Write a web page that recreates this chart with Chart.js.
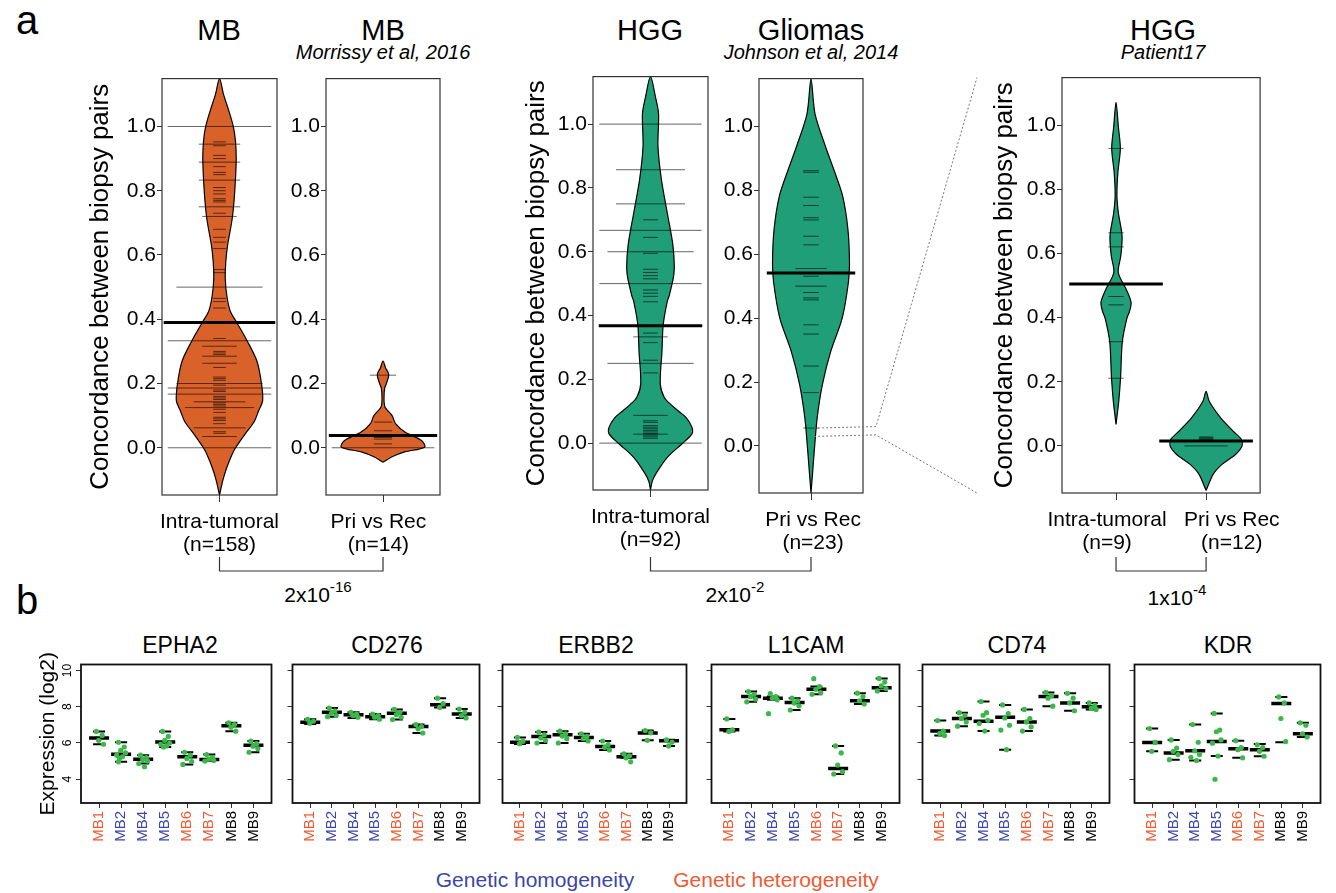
<!DOCTYPE html>
<html>
<head>
<meta charset="utf-8">
<script src="https://cdn.jsdelivr.net/npm/chart.js@4.4.1/dist/chart.umd.min.js"></script>
<style>
  body { margin: 0; background: #fff; width: 1336px; height: 893px; position: relative; overflow: hidden;
         font-family: "Liberation Sans", Arial, sans-serif; }
  canvas { position: absolute; }
  .t { position: absolute; white-space: nowrap; transform: translate(-50%, -50%); line-height: 1; color: #000; }
  .t sup { font-size: 0.72em; vertical-align: 0.65em; line-height: 0; }
</style>
</head>
<body>
<div class="t" style="left:27px;top:20px;font-size:40px">a</div>
<div class="t" style="left:27px;top:600px;font-size:40px">b</div>

<div class="t" style="left:219px;top:30px;font-size:29px">MB</div>
<div class="t" style="left:383px;top:30px;font-size:29px">MB</div>
<div class="t" style="left:383px;top:52px;font-size:20px;font-style:italic">Morrissy et al, 2016</div>
<div class="t" style="left:650px;top:30px;font-size:29px">HGG</div>
<div class="t" style="left:811px;top:30px;font-size:29px">Gliomas</div>
<div class="t" style="left:811px;top:52px;font-size:20px;font-style:italic">Johnson et al, 2014</div>
<div class="t" style="left:1163px;top:30px;font-size:29px">HGG</div>
<div class="t" style="left:1163px;top:52px;font-size:20px;font-style:italic">Patient17</div>

<div class="t" style="left:318px;top:594px;font-size:21px">2x10<sup>-16</sup></div>
<div class="t" style="left:735px;top:594px;font-size:21px">2x10<sup>-2</sup></div>
<div class="t" style="left:1177px;top:597px;font-size:21px">1x10<sup>-4</sup></div>

<div class="t" style="left:180px;top:645px;font-size:23px">EPHA2</div>
<div class="t" style="left:387px;top:645px;font-size:23px">CD276</div>
<div class="t" style="left:596px;top:645px;font-size:23px">ERBB2</div>
<div class="t" style="left:806px;top:645px;font-size:23px">L1CAM</div>
<div class="t" style="left:1017px;top:645px;font-size:23px">CD74</div>
<div class="t" style="left:1228px;top:645px;font-size:23px">KDR</div>

<div class="t" style="left:535px;top:879px;font-size:21px;color:#3A46A8">Genetic homogeneity</div>
<div class="t" style="left:776px;top:879px;font-size:21px;color:#F05A32">Genetic heterogeneity</div>

<script>
Chart.defaults.font.family = '"Liberation Sans", Arial, sans-serif';
Chart.defaults.color = '#000';

const ORANGE = '#D9622B';
const GREEN = '#1F9E77';

// ---------- panel a ----------
const concTicks = [0, 0.2, 0.4, 0.6, 0.8, 1.0];

// violin outlines: [value, half width in x units]
const mbIntraShape = [[-0.147,0],[-0.1,0.06],[-0.06,0.13],[-0.02,0.22],[0,0.28],[0.044,0.45],[0.08,0.6],[0.115,0.68],[0.146,0.75],[0.2,0.73],[0.27,0.65],[0.333,0.48],[0.39,0.3],[0.424,0.19],[0.47,0.13],[0.527,0.1],[0.58,0.11],[0.63,0.14],[0.712,0.22],[0.785,0.26],[0.89,0.29],[0.95,0.28],[1.0,0.24],[1.05,0.16],[1.1,0.07],[1.149,0]];
const mbRecShape = [[-0.045,0],[-0.028,0.16],[-0.013,0.38],[0.002,0.73],[0.022,0.68],[0.048,0.39],[0.075,0.22],[0.1,0.16],[0.125,0.04],[0.14,0.02],[0.17,0.02],[0.186,0.03],[0.2,0.06],[0.228,0.1],[0.249,0.044],[0.27,0]];
const hggIntraShape = [[-0.147,0],[-0.12,0.03],[-0.094,0.1],[-0.043,0.3],[-0.002,0.55],[0.029,0.72],[0.05,0.72],[0.08,0.62],[0.1,0.49],[0.12,0.36],[0.143,0.24],[0.185,0.17],[0.288,0.2],[0.37,0.22],[0.443,0.29],[0.465,0.33],[0.536,0.41],[0.62,0.39],[0.723,0.29],[0.826,0.19],[0.93,0.13],[1.033,0.14],[1.085,0.087],[1.149,0]];
const gliomaShape = [[-0.147,0],[-0.085,0.03],[-0.013,0.064],[0.09,0.12],[0.193,0.22],[0.296,0.38],[0.4,0.6],[0.513,0.72],[0.575,0.74],[0.678,0.71],[0.781,0.61],[0.864,0.44],[0.936,0.28],[1.039,0.077],[1.148,0]];
const p17IntraShape = [[0.067,0],[0.139,0.03],[0.211,0.05],[0.325,0.07],[0.397,0.12],[0.42,0.15],[0.448,0.167],[0.49,0.11],[0.541,0.025],[0.593,0.053],[0.655,0.067],[0.727,0.026],[0.78,0.01],[0.851,0.02],[0.928,0.048],[0.995,0.026],[1.072,0]];
const p17RecShape = [[-0.139,0],[-0.088,0.08],[-0.057,0.18],[-0.026,0.33],[0,0.4],[0.021,0.39],[0.046,0.3],[0.088,0.16],[0.139,0.035],[0.17,0]];

// bean lines: [value, half length]
const mbIntraBeans = [[1.0,0.9],[0.952,0.11],[0.945,0.36],[0.94,0.11],[0.91,0.11],[0.9,0.11],[0.889,0.36],[0.875,0.11],[0.857,0.11],[0.85,0.11],[0.833,0.36],[0.81,0.11],[0.8,0.11],[0.79,0.11],[0.775,0.11],[0.77,0.11],[0.765,0.11],[0.75,0.36],[0.73,0.11],[0.72,0.3],[0.68,0.11],[0.655,0.11],[0.64,0.11],[0.62,0.11],[0.555,0.11],[0.545,0.11],[0.5,0.75],[0.465,0.11],[0.455,0.11],[0.435,0.11],[0.34,0.11],[0.333,0.9],[0.316,0.3],[0.3,0.11],[0.295,0.11],[0.29,0.11],[0.285,0.3],[0.263,0.3],[0.25,0.11],[0.22,0.11],[0.215,0.11],[0.21,0.11],[0.2,0.75],[0.195,0.11],[0.186,0.9],[0.18,0.11],[0.175,0.11],[0.167,0.9],[0.16,0.11],[0.155,0.11],[0.15,0.11],[0.143,0.45],[0.14,0.11],[0.135,0.11],[0.13,0.11],[0.125,0.6],[0.12,0.11],[0.11,0.11],[0.095,0.11],[0.09,0.11],[0.085,0.11],[0.075,0.11],[0.062,0.45],[0.05,0.11],[0.045,0.11],[0.035,0.3],[0,0.9]];
const mbRecBeans = [[0.226,0.23],[0.08,0.16],[0.053,0.16],[0.032,0.16],[0.027,0.16],[0.012,0.16],[0,0.9]];
const hggIntraBeans = [[1.0,0.89],[0.857,0.6],[0.75,0.6],[0.7,0.13],[0.667,0.89],[0.645,0.13],[0.6,0.75],[0.595,0.13],[0.545,0.13],[0.535,0.13],[0.525,0.13],[0.515,0.13],[0.5,0.89],[0.48,0.13],[0.47,0.13],[0.46,0.13],[0.443,0.13],[0.345,0.13],[0.333,0.3],[0.315,0.13],[0.26,0.13],[0.25,0.75],[0.22,0.13],[0.087,0.3],[0.07,0.13],[0.065,0.13],[0.055,0.13],[0.05,0.13],[0.045,0.13],[0.04,0.13],[0.035,0.13],[0.03,0.13],[0.028,0.3],[0.025,0.13],[0.02,0.13],[0.015,0.13],[0,0.89]];
const gliomaBeans = [[0.861,0.15],[0.856,0.15],[0.778,0.15],[0.752,0.15],[0.714,0.15],[0.707,0.15],[0.656,0.15],[0.629,0.15],[0.555,0.3],[0.531,0.15],[0.5,0.3],[0.48,0.15],[0.463,0.15],[0.457,0.15],[0.379,0.15],[0.35,0.15],[0.25,0.15],[0.167,0.15],[0.056,0.15]];
const p17IntraBeans = [[0.928,0.085],[0.665,0.085],[0.621,0.085],[0.466,0.085],[0.44,0.085],[0.325,0.085],[0.211,0.085]];
const p17RecBeans = [[0.028,0.08],[0.025,0.08],[0.022,0.08],[0.019,0.08],[0.016,0.08],[0,0.24]];

// group means
const mbIntraMean = 0.39, mbRecMean = 0.038, hggIntraMean = 0.368, gliomaMean = 0.541, p17IntraMean = 0.505, p17RecMean = 0.0155;

// ---------- panel b ----------
const samples = ['MB1', 'MB2', 'MB4', 'MB5', 'MB6', 'MB7', 'MB8', 'MB9'];
const sampleColors = ['#F05A32', '#3A46A8', '#3A46A8', '#3A46A8', '#F05A32', '#F05A32', '#000000', '#000000'];
const exprTicks = [4, 6, 8, 10];

const epha2Med = [6.27, 5.38, 5.11, 6.05, 5.24, 5.09, 6.95, 5.87];
const epha2Lo  = [5.93, 4.96, 4.87, 5.78, 4.82, 5.0, 6.65, 5.49];
const epha2Hi  = [6.64, 6.04, 5.33, 6.64, 5.49, 5.36, 7.11, 6.11];
const epha2Pts = [[6.64,6.42,6.15,5.93],[6.04,5.78,5.6,5.45,5.33,5.24,5.15,4.96],[5.33,5.2,5.09,5.0,4.87,4.69],[6.64,6.36,6.15,6.0,5.93,5.84,5.78],[5.49,5.33,5.15,4.98,4.82],[5.36,5.2,5.11,5.04,5.0],[7.11,7.02,6.87,6.65],[6.11,5.96,5.82,5.69,5.49]];

const cd276Med = [7.15, 7.69, 7.56, 7.45, 7.64, 6.91, 8.11, 7.6];
const cd276Lo  = [7.05, 7.45, 7.38, 7.31, 7.29, 6.55, 7.96, 7.38];
const cd276Hi  = [7.31, 7.93, 7.69, 7.6, 7.85, 7.02, 8.47, 7.87];
const cd276Pts = [[7.31,7.2,7.09],[7.93,7.78,7.64,7.51,7.45],[7.69,7.6,7.51,7.42],[7.6,7.51,7.42,7.31],[7.85,7.69,7.56,7.42,7.29],[7.02,6.91,6.78,6.55],[8.47,8.18,7.96],[7.87,7.69,7.51,7.38]];

const erbb2Med = [6.04, 6.36, 6.45, 6.31, 5.8, 5.24, 6.55, 6.13];
const erbb2Lo  = [5.95, 6.0, 6.0, 6.11, 5.62, 5.18, 6.15, 5.84];
const erbb2Hi  = [6.31, 6.6, 6.65, 6.51, 6.11, 5.4, 6.69, 6.18];
const erbb2Pts = [[6.31,6.09,5.96],[6.6,6.45,6.27,6.15,6.0],[6.65,6.51,6.38,6.24,6.0],[6.51,6.36,6.24,6.11],[6.11,5.91,5.76,5.62],[5.4,5.29,5.18,4.96],[6.69,6.56,6.15],[6.18,6.05,5.84]];

const l1camMed = [6.73, 8.56, 8.47, 8.24, 8.96, 4.6, 8.33, 9.05];
const l1camLo  = [6.64, 8.27, 8.38, 7.82, 8.69, 4.29, 8.15, 8.87];
const l1camHi  = [7.33, 8.84, 8.56, 8.47, 9.11, 5.84, 8.75, 9.56];
const l1camPts = [[7.33,6.73,6.64],[8.84,8.69,8.56,8.42,8.27],[8.73,8.56,8.47,8.38,7.62],[8.47,8.33,8.2,8.05,7.82],[9.55,9.11,8.96,8.78,8.69],[5.84,5.45,4.78,4.42,4.29],[8.75,8.56,8.33,8.15],[9.56,9.36,9.15,9.0,8.87]];

const cd74Med = [6.66, 7.35, 7.2, 7.42, 7.16, 8.56, 8.21, 8.0];
const cd74Lo  = [6.41, 6.93, 6.66, 5.63, 6.66, 8.03, 7.78, 7.85];
const cd74Hi  = [7.24, 7.67, 8.29, 8.1, 7.85, 8.79, 8.74, 8.21];
const cd74Pts = [[7.24,6.66,6.53,6.41],[7.67,7.53,7.35,7.16,6.93],[8.29,7.67,7.53,7.25,7.07,6.66],[8.1,7.62,7.38,6.98,6.71,5.63],[7.85,7.35,7.16,6.89,6.66],[8.79,8.61,8.47,8.03],[8.74,8.47,8.21,7.78],[8.21,8.07,7.92,7.85]];

const kdrMed = [6.03, 5.45, 5.57, 6.08, 5.68, 5.63, 8.18, 6.51];
const kdrLo  = [5.54, 5.08, 5.03, 5.28, 5.18, 5.27, 6.04, 6.33];
const kdrHi  = [6.8, 6.17, 7.02, 7.63, 6.13, 5.94, 8.54, 7.11];
const kdrPts = [[6.8,6.03,5.54],[6.17,5.72,5.54,5.36,5.08],[7.02,6.04,5.57,5.36,5.21,5.03],[7.63,6.71,6.62,6.17,5.99,5.28,4.0],[6.13,5.75,5.63,5.18],[5.9,5.75,5.54,5.27],[8.54,8.21,7.35,6.08],[7.11,6.98,6.51,6.33]];

// horizontal spread of the dots around each sample
const jitter = [-0.12, 0.14, -0.02, 0.2, -0.2, 0.06, -0.08];

function makeCanvas(left, top, w, h) {
  const c = document.createElement('canvas');
  c.width = w; c.height = h;
  c.style.left = left + 'px'; c.style.top = top + 'px';
  c.style.width = w + 'px'; c.style.height = h + 'px';
  document.body.appendChild(c);
  return c;
}

// box round the plotting area
const frame = {
  id: 'frame',
  afterDraw(chart, args, opts) {
    const { ctx, chartArea: a } = chart;
    ctx.save();
    ctx.strokeStyle = opts.color || '#333';
    ctx.lineWidth = opts.width || 1.2;
    ctx.strokeRect(a.left, a.top, a.right - a.left, a.bottom - a.top);
    ctx.restore();
  }
};

function violinSets(cx, shape, beans, mean, meanHalf, fillColor) {
  const right = shape.map(([v, w]) => ({ x: cx + w, y: v }));
  const left = shape.map(([v, w]) => ({ x: cx - w, y: v })).reverse().slice(1);
  const beanPts = [];
  beans.forEach(([v, h]) => beanPts.push({ x: cx - h, y: v }, { x: cx + h, y: v }, { x: NaN, y: NaN }));
  return [
    { data: [{ x: cx - meanHalf, y: mean }, { x: cx + meanHalf, y: mean }], showLine: true,
      borderColor: '#000', borderWidth: 3, pointRadius: 0, order: 1 },
    { data: beanPts, showLine: true, borderColor: 'rgba(0,0,0,0.6)', borderWidth: 1, pointRadius: 0, order: 2 },
    { data: right.concat(left), showLine: true, fill: 'shape', backgroundColor: fillColor,
      borderColor: '#000', borderWidth: 1.2, pointRadius: 0, tension: 0.3, order: 3 }
  ];
}

// x: tick marks at the groups; xl: the group labels (may sit off the tick, as in the original)
function violinChart(box, yw, xr, xTicks, labelPos, xLabels, showTitle, datasets) {
  const padT = 10, padR = 14, xh = 75, tick = 7;
  const cv = makeCanvas(box.l - yw, box.t - padT, yw + box.r - box.l + padR, padT + box.b - box.t + xh);
  return new Chart(cv, {
    type: 'scatter',
    data: { datasets },
    options: {
      responsive: false, animation: false, devicePixelRatio: 1, events: [],
      layout: { padding: { top: padT, right: padR, left: 0, bottom: 0 } },
      plugins: { legend: { display: false }, tooltip: { enabled: false }, frame: { color: '#333', width: 1.2 } },
      scales: {
        x: {
          type: 'linear', min: xr[0], max: xr[1], weight: 0,
          afterBuildTicks: s => { s.ticks = xTicks.map(v => ({ value: v })); },
          afterFit: s => { s.height = tick; },
          grid: { drawOnChartArea: false, tickLength: tick, color: '#333' },
          border: { display: false },
          ticks: { autoSkip: false, maxRotation: 0, padding: 0, callback: () => '' }
        },
        xl: {
          type: 'linear', position: 'bottom', min: xr[0], max: xr[1], weight: 1,
          afterBuildTicks: s => { s.ticks = labelPos.map(v => ({ value: v })); },
          afterFit: s => { s.height = xh - tick; },
          grid: { display: false },
          border: { display: false },
          ticks: { autoSkip: false, maxRotation: 0, padding: 1, color: '#000',
                   font: { size: 21, lineHeight: 1.08 }, callback: (v, i) => xLabels[i] }
        },
        y: {
          min: -0.147, max: 1.149,
          afterBuildTicks: s => { s.ticks = concTicks.map(v => ({ value: v })); },
          afterFit: s => { s.width = yw; },
          grid: { drawOnChartArea: false, tickLength: 5, color: '#333' },
          border: { display: false },
          ticks: { padding: 1, color: '#000', font: { size: 21 }, callback: v => v.toFixed(1) },
          title: { display: showTitle, text: 'Concordance between biopsy pairs', color: '#000',
                   font: { size: 26 }, padding: { top: 0, bottom: 0 } }
        }
      }
    },
    plugins: [frame]
  });
}

const cMbIntra = violinChart({ l: 162, r: 277, t: 75, b: 495 }, 77, [-1, 1], [0], [0], [['Intra-tumoral', '(n=158)']], true,
  violinSets(0, mbIntraShape, mbIntraBeans, mbIntraMean, 0.97, ORANGE));
const cMbRec = violinChart({ l: 326, r: 440, t: 75, b: 495 }, 50, [-1, 1], [0], [-0.08], [['Pri vs Rec', '(n=14)']], false,
  violinSets(0, mbRecShape, mbRecBeans, mbRecMean, 0.95, ORANGE));
const cHggIntra = violinChart({ l: 593, r: 708, t: 73, b: 490 }, 72, [-1, 1], [0], [0], [['Intra-tumoral', '(n=92)']], true,
  violinSets(0, hggIntraShape, hggIntraBeans, hggIntraMean, 0.9, GREEN));
const cGlioma = violinChart({ l: 759, r: 863, t: 75, b: 493 }, 50, [-1, 1], [0], [0.04], [['Pri vs Rec', '(n=23)']], false,
  violinSets(0, gliomaShape, gliomaBeans, gliomaMean, 0.85, GREEN));
const cP17 = violinChart({ l: 1062, r: 1270, t: 74, b: 493 }, 73, [0.4, 2.6], [1, 2], [0.9, 2.285],
  [['Intra-tumoral', '(n=9)'], ['Pri vs Rec', '(n=12)']], true,
  violinSets(1, p17IntraShape, p17IntraBeans, p17IntraMean, 0.52, GREEN)
    .concat(violinSets(2, p17RecShape, p17RecBeans, p17RecMean, 0.52, GREEN)));

// ---------- panel b charts ----------
function exprChart(box, yw, med, lo, hi, pts, showY) {
  const padT = 10, padR = 6, xh = 45;
  const cv = makeCanvas(box.l - yw, box.t - padT, yw + box.r - box.l + padR, padT + box.b - box.t + xh);
  const dots = [], caps = [], medians = [];
  pts.forEach((vals, i) => vals.forEach((v, k) => dots.push({ x: i + 1 + jitter[k % jitter.length], y: v })));
  med.forEach((v, i) => medians.push({ x: i + 1, y: v }));
  lo.forEach((v, i) => caps.push({ x: i + 1, y: v }, { x: i + 1, y: hi[i] }));
  return new Chart(cv, {
    type: 'scatter',
    data: {
      datasets: [
        { data: dots, pointRadius: 2.6, pointBackgroundColor: '#3CB84A', pointBorderWidth: 0, order: 1 },
        { data: medians, pointStyle: 'line', pointRadius: 10, pointBorderWidth: 3.5, pointBorderColor: '#000', order: 2 },
        { data: caps, pointStyle: 'line', pointRadius: 6, pointBorderWidth: 2, pointBorderColor: '#000', order: 3 }
      ]
    },
    options: {
      responsive: false, animation: false, devicePixelRatio: 1, events: [],
      layout: { padding: { top: padT, right: padR, left: 0, bottom: 0 } },
      plugins: { legend: { display: false }, tooltip: { enabled: false }, frame: { color: '#111', width: 1.8 } },
      scales: {
        x: {
          type: 'linear', min: 0.18, max: 8.82,
          afterBuildTicks: s => { s.ticks = samples.map((_, i) => ({ value: i + 1 })); },
          afterFit: s => { s.height = xh; },
          grid: { drawOnChartArea: false, tickLength: 5, color: '#333' },
          border: { display: false },
          ticks: { autoSkip: false, minRotation: 90, maxRotation: 90, padding: 3, font: { size: 15 },
                   color: c => sampleColors[c.index], callback: (v, i) => samples[i] }
        },
        y: {
          min: 2.69, max: 10.33,
          afterBuildTicks: s => { s.ticks = exprTicks.map(v => ({ value: v })); },
          afterFit: s => { s.width = yw; },
          grid: { drawOnChartArea: false, tickLength: 5, color: '#333' },
          border: { display: false },
          ticks: { padding: 2, font: { size: 12 }, minRotation: 90, maxRotation: 90, crossAlign: 'center',
                   callback: v => showY ? String(v) : '' },
          title: { display: showY, text: 'Expression (log2)', color: '#000', font: { size: 21 },
                   padding: { top: 0, bottom: 0 } }
        }
      }
    },
    plugins: [frame]
  });
}

exprChart({ l: 81, r: 279, t: 661, b: 803 }, 45, epha2Med, epha2Lo, epha2Hi, epha2Pts, true);
exprChart({ l: 287, r: 487, t: 661, b: 803 }, 8, cd276Med, cd276Lo, cd276Hi, cd276Pts, false);
exprChart({ l: 497, r: 694, t: 661, b: 803 }, 8, erbb2Med, erbb2Lo, erbb2Hi, erbb2Pts, false);
exprChart({ l: 706, r: 907, t: 661, b: 803 }, 8, l1camMed, l1camLo, l1camHi, l1camPts, false);
exprChart({ l: 917, r: 1117, t: 661, b: 803 }, 8, cd74Med, cd74Lo, cd74Hi, cd74Pts, false);
exprChart({ l: 1129, r: 1328, t: 661, b: 803 }, 8, kdrMed, kdrLo, kdrHi, kdrPts, false);

// ---------- brackets and zoom guides ----------
const ov = makeCanvas(0, 0, 1336, 893);
ov.style.pointerEvents = 'none';
const octx = ov.getContext('2d');
const pageX = (c, v) => c.canvas.offsetLeft + c.scales.x.getPixelForValue(v);
const pageY = (c, v) => c.canvas.offsetTop + c.scales.y.getPixelForValue(v);

function bracket(c1, v1, c2, v2) {
  const x1 = pageX(c1, v1), x2 = pageX(c2, v2);
  octx.beginPath();
  octx.moveTo(x1, 557); octx.lineTo(x1, 571); octx.lineTo(x2, 571); octx.lineTo(x2, 557);
  octx.stroke();
}
octx.strokeStyle = '#333';
octx.lineWidth = 1.2;
bracket(cMbIntra, 0, cMbRec, 0);
bracket(cHggIntra, 0, cGlioma, 0);
bracket(cP17, 1, cP17, 2);

octx.strokeStyle = '#777';
octx.lineWidth = 1;
octx.setLineDash([2, 2]);
const ga = cGlioma.chartArea, pa = cP17.chartArea;
[[0.056, 'top'], [0.03, 'bottom']].forEach(([v, edge]) => {
  const y0 = pageY(cGlioma, v);
  octx.beginPath();
  octx.moveTo(pageX(cGlioma, 0.06), y0);
  octx.lineTo(cGlioma.canvas.offsetLeft + ga.right + 13, y0 - 1.5);
  octx.lineTo(cP17.canvas.offsetLeft + pa.left - 85, cP17.canvas.offsetTop + pa[edge]);
  octx.stroke();
});
</script>
</body>
</html>
